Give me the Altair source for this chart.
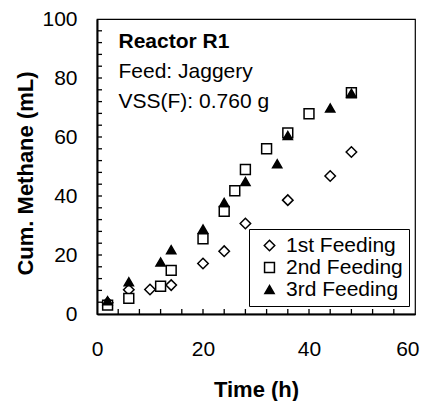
import altair as alt
import pandas as pd

FONT = "Liberation Sans"

series = ["1st Feeding", "2nd Feeding", "3rd Feeding"]
t1 = [2, 6, 10, 14, 20, 24, 28, 36, 44, 48]
m1 = [3.8, 8.2, 8.3, 9.8, 17.1, 21.3, 30.7, 38.6, 46.8, 54.9]
t2 = [2, 6, 12, 14, 20, 24, 26, 28, 32, 36, 40, 48]
m2 = [3.0, 5.3, 9.4, 14.8, 25.5, 34.8, 41.8, 49.0, 56.0, 61.4, 67.9, 75.0]
t3 = [2, 6, 12, 14, 20, 24, 28, 34, 36, 44, 48]
m3 = [4.5, 10.9, 17.6, 21.8, 28.8, 37.8, 44.9, 50.9, 60.5, 69.8, 74.8]

x_labels = [0, 20, 40, 60]
y_labels = [0, 20, 40, 60, 80, 100]
x_minor = [4, 8, 12, 16, 20, 24, 28, 32, 36, 40, 44, 48, 52, 56]
y_minor = [4, 8, 12, 16, 20, 24, 28, 32, 36, 40, 44, 48, 52, 56, 60, 64, 68, 72, 76, 80, 84, 88, 92, 96]
notes = ["Reactor R1", "Feed: Jaggery", "VSS(F): 0.760 g"]

W, H = 318, 295

df = pd.DataFrame({
    "x": t1 + t2 + t3,
    "y": m1 + m2 + m3,
    "s": [series[0]] * len(t1) + [series[1]] * len(t2) + [series[2]] * len(t3),
})

xscale = alt.Scale(domain=[0, 60], nice=False, zero=False)
yscale = alt.Scale(domain=[0, 100], nice=False, zero=False)

xaxis = alt.Axis(
    values=x_labels, ticks=False, grid=False, domain=True, domainColor="black", domainWidth=2,
    labelFont=FONT, labelFontSize=21, labelColor="black", labelPadding=24, labelFlush=False,
    labelOverlap=False, labelBound=False,
    labelAlign={"condition": {"test": "datum.value >= 60", "value": "right"}, "value": "center"},
    labelOffset={"condition": {"test": "datum.value >= 60", "value": 4}, "value": 0},
    title="Time (h)", titleFont=FONT, titleFontSize=22,
    titleFontWeight="bold", titleColor="black", titleX=W / 2, titleY=82, titleAlign="center",
    titleBaseline="alphabetic",
)
yaxis = alt.Axis(
    values=y_labels, ticks=False, grid=False, domain=True, domainColor="black", domainWidth=2,
    labelFont=FONT, labelFontSize=21, labelColor="black", labelPadding=20, labelFlush=False,
    labelOverlap=False, labelBound=False, title="Cum. Methane (mL)", titleFont=FONT,
    titleFontSize=22, titleFontWeight="bold", titleColor="black", titleX=-65, titleY=154,
    titleAngle=270, titleAlign="center", titleBaseline="alphabetic",
)

leg = dict(
    title=None, orient="none", legendX=152, legendY=210, strokeColor="black", fillColor="white",
    padding=6, rowPadding=0, labelFont=FONT, labelFontSize=21, labelColor="black",
    symbolStrokeColor="black", symbolStrokeWidth=1.5, symbolOpacity=1,
    labelOffset=6, symbolOffset=4,
)

xt = alt.Chart(pd.DataFrame({"x": x_minor})).mark_tick(
    orient="vertical", size=5, thickness=1.3, color="black", opacity=1
).encode(x=alt.X("x:Q", scale=xscale, axis=xaxis), y=alt.value(H - 2.5))

yt = alt.Chart(pd.DataFrame({"y": y_minor})).mark_tick(
    orient="horizontal", size=5, thickness=1.3, color="black", opacity=1
).encode(y=alt.Y("y:Q", scale=yscale, axis=yaxis), x=alt.value(2.5))

points = alt.Chart(df).mark_point(strokeWidth=1.5, opacity=1).encode(
    x=alt.X("x:Q", scale=xscale, axis=xaxis),
    y=alt.Y("y:Q", scale=yscale, axis=yaxis),
    shape=alt.Shape("s:N", scale=alt.Scale(domain=series, range=["diamond", "square", "triangle-up"]),
                    legend=alt.Legend(**leg)),
    fill=alt.Fill("s:N", scale=alt.Scale(domain=series, range=["white", "white", "black"]),
                  legend=alt.Legend(**leg)),
    stroke=alt.Stroke("s:N", scale=alt.Scale(domain=series, range=["black", "black", "black"]),
                      legend=alt.Legend(**leg)),
    size=alt.Size("s:N", scale=alt.Scale(domain=series, range=[110, 85, 155]),
                  legend=alt.Legend(**leg)),
)

texts = []
for i, note in enumerate(notes):
    texts.append(
        alt.Chart(pd.DataFrame({"t": [note]})).mark_text(
            font=FONT, fontSize=21, fontWeight="bold" if i == 0 else "normal",
            align="left", baseline="alphabetic", color="black",
        ).encode(x=alt.value(21.5), y=alt.value(29 + 30 * i), text="t:N")
    )

chart = alt.layer(xt, yt, points, *texts).properties(
    width=W, height=H,
    autosize=alt.AutoSizeParams(type="none"),
    padding={"left": 89, "top": 11, "right": 5, "bottom": 87},
    background="white",
).configure_view(stroke="black", strokeWidth=1.2)

chart.save("out.html", embed_options={"renderer": "svg", "actions": False})
